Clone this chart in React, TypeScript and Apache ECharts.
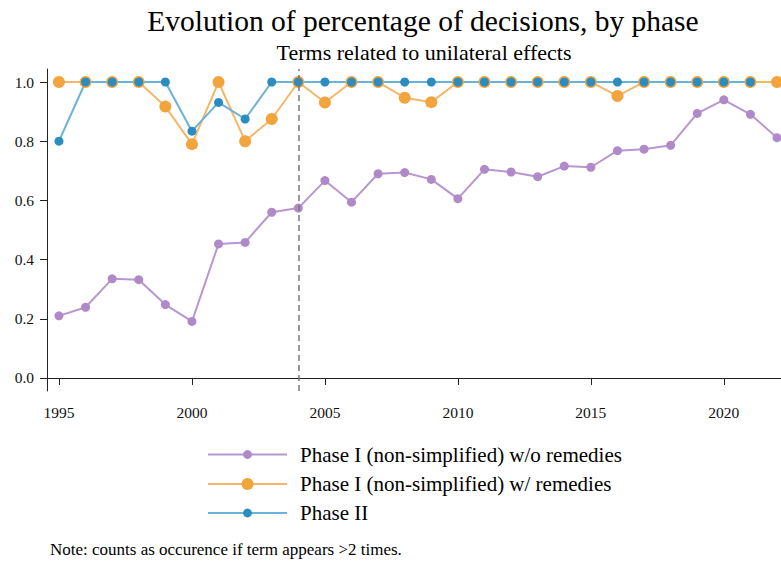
import React, { useEffect, useRef } from "react";
import * as echarts from "echarts";

const years = [1995, 1996, 1997, 1998, 1999, 2000, 2001, 2002, 2003, 2004, 2005, 2006, 2007, 2008, 2009, 2010, 2011, 2012, 2013, 2014, 2015, 2016, 2017, 2018, 2019, 2020, 2021, 2022];
const phaseINoRemedies = [0.21, 0.239, 0.335, 0.332, 0.248, 0.191, 0.453, 0.458, 0.56, 0.574, 0.667, 0.594, 0.69, 0.694, 0.671, 0.606, 0.705, 0.696, 0.68, 0.716, 0.712, 0.768, 0.773, 0.786, 0.894, 0.94, 0.891, 0.812];
const phaseIRemedies = [1, 1, 1, 1, 0.917, 0.79, 1, 0.8, 0.875, 1, 0.931, 1, 1, 0.947, 0.932, 1, 1, 1, 1, 1, 1, 0.953, 1, 1, 1, 1, 1, 1];
const phaseII = [0.8, 1, 1, 1, 1, 0.834, 0.931, 0.875, 1, 1, 1, 1, 1, 1, 1, 1, 1, 1, 1, 1, 1, 1, 1, 1, 1, 1, 1, null];
const xTicks = [1995, 2000, 2005, 2010, 2015, 2020];
const yTicks = [0, 0.2, 0.4, 0.6, 0.8, 1.0];
const seriesNames = [
  "Phase I (non-simplified) w/o remedies",
  "Phase I (non-simplified) w/ remedies",
  "Phase II",
];
const markerYear = 2004;

const SERIF = "Liberation Serif";

export default function App() {
  const ref = useRef<HTMLDivElement>(null);
  useEffect(() => {
    if (!ref.current) return;
    const chart = echarts.init(ref.current, null, { renderer: "svg" });
    const pair = (arr: (number | null)[]) => years.map((y, i) => [y, arr[i]]);
    const legendHeights = [11, 15, 11];
    const legendCenters = [454.5, 484, 513];
    const legendFont = 21;
    chart.setOption({
      animation: false,
      backgroundColor: "#fff",
      textStyle: { fontFamily: SERIF },
      title: [
        {
          text: "Evolution of percentage of decisions, by phase",
          left: 418,
          top: 1,
          textAlign: "center",
          textStyle: { fontFamily: SERIF, fontSize: 29.5, fontWeight: "normal", color: "#000" },
        },
        {
          text: "Terms related to unilateral effects",
          left: 419,
          top: 36,
          textAlign: "center",
          textStyle: { fontFamily: SERIF, fontSize: 22, fontWeight: "normal", color: "#000" },
        },
        {
          text: "Note: counts as occurence if term appears >2 times.",
          left: 45,
          top: 536,
          textStyle: { fontFamily: SERIF, fontSize: 17, fontWeight: "normal", color: "#000" },
        },
      ],
      legend: seriesNames.map((name, i) => ({
        orient: "vertical",
        left: 202,
        top: legendCenters[i] - Math.max(legendFont, legendHeights[i]) / 2 - 5,
        itemWidth: 79,
        itemHeight: legendHeights[i],
        textStyle: { fontFamily: SERIF, fontSize: legendFont, color: "#000", padding: [0, 0, 0, 8] },
        data: [name],
      })),
      grid: { left: 47, right: 0, top: 69, bottom: 171, containLabel: false },
      xAxis: {
        type: "value",
        min: 1994.55,
        max: 2022.15,
        splitLine: { show: false },
        axisLine: { show: true, lineStyle: { color: "#222", width: 1 } },
        axisTick: { show: true, length: 7, lineStyle: { color: "#222" }, customValues: xTicks },
        axisLabel: {
          customValues: xTicks,
          formatter: (v: number) => String(v),
          fontFamily: SERIF,
          fontSize: 15.5,
          color: "#111",
          margin: 13,
        },
      },
      yAxis: {
        type: "value",
        min: -0.044,
        max: 1.044,
        splitLine: { show: false },
        axisLine: { show: true, lineStyle: { color: "#222", width: 1 } },
        axisTick: { show: true, length: 7, lineStyle: { color: "#222" }, customValues: yTicks },
        axisLabel: {
          customValues: yTicks,
          formatter: (v: number) => v.toFixed(1),
          fontFamily: SERIF,
          fontSize: 15.5,
          color: "#111",
          margin: 13,
        },
      },
      series: [
        {
          name: seriesNames[0],
          type: "line",
          data: pair(phaseINoRemedies),
          symbol: "circle",
          symbolSize: 9,
          itemStyle: { color: "#b08ac8" },
          lineStyle: { color: "#b896cf", width: 2 },
          markLine: {
            silent: true,
            symbol: "none",
            label: { show: false },
            lineStyle: { color: "#777", type: [6, 4], width: 1.5 },
            data: [{ xAxis: markerYear }],
          },
        },
        {
          name: seriesNames[1],
          type: "line",
          data: pair(phaseIRemedies),
          symbol: "circle",
          symbolSize: 12,
          itemStyle: { color: "#f3a43d" },
          lineStyle: { color: "#f5b76a", width: 2 },
        },
        {
          name: seriesNames[2],
          type: "line",
          data: pair(phaseII),
          symbol: "circle",
          symbolSize: 9,
          connectNulls: false,
          itemStyle: { color: "#2b8cc0" },
          lineStyle: { color: "#6ab2d9", width: 2 },
        },
      ],
    });
    return () => chart.dispose();
  }, []);
  return (
    <div
      ref={ref}
      style={{ position: "absolute", left: 0, top: 0, width: 781, height: 562 }}
    />
  );
}
